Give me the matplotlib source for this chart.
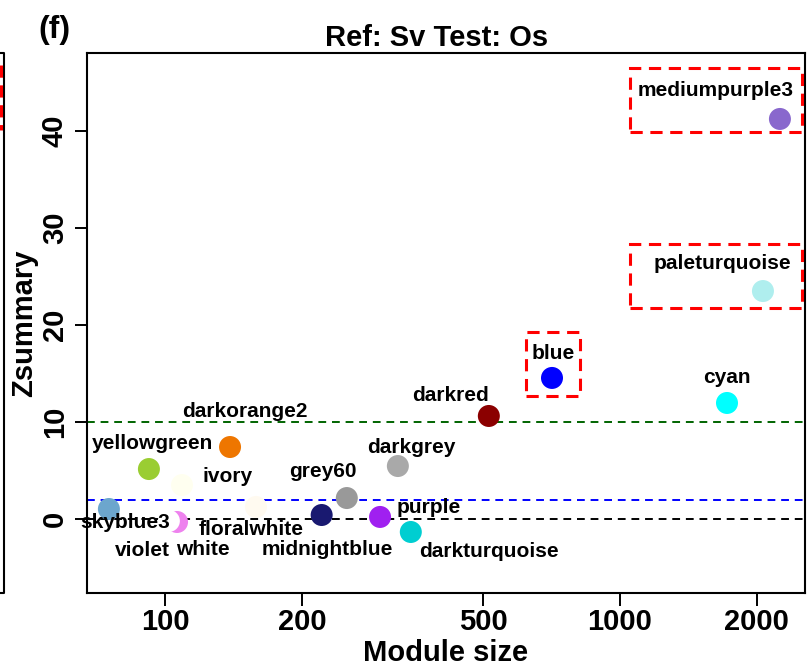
import matplotlib
matplotlib.use("Agg")
import matplotlib.pyplot as plt
from matplotlib.lines import Line2D
from matplotlib.patches import Rectangle

plt.rcParams['font.family'] = ['Liberation Sans', 'DejaVu Sans']
plt.rcParams['font.weight'] = 'bold'

modules = ["skyblue3", "yellowgreen", "ivory", "violet", "white", "darkorange2",
           "floralwhite", "midnightblue", "grey60", "purple", "darkgrey",
           "darkturquoise", "darkred", "blue", "cyan", "paleturquoise", "mediumpurple3"]
colors = ["#6CA6CD", "#9ACD32", "#FFFFF0", "#EE82EE", "#FFFFFF", "#EE7600",
          "#FFFAF0", "#191970", "#999999", "#A020F0", "#A9A9A9",
          "#00CED1", "#8B0000", "#0000FF", "#00FFFF", "#AFEEEE", "#8968CD"]
module_size = [75.3, 92.2, 109, 106.3, 102, 139,
               158.5, 221, 251, 297, 325,
               347, 515, 709, 1719, 2062, 2247]
zsummary = [1.03, 5.15, 3.5, -0.31, -0.2, 7.42,
            1.24, 0.41, 2.16, 0.21, 5.46,
            -1.34, 10.62, 14.54, 11.96, 23.5, 41.24]
# label offsets in pixels (dx, dy with dy positive downward)
label_dx = [16, 4, 46, -35, 34, 15, -5, 6, -24, 49, 13, 78, -38, 1, 0, -41, -64]
label_dy = [14, -26, -9, 29, 29, -36, 23, 34, -27, -9, -19, 20, -20, -24, -25, -28, -28]

thresholds = [0, 2, 10]
threshold_colors = ["black", "blue", "darkgreen"]

# highlighted modules: (x0, x1, y0, y1)
box_x0 = [1052, 1052, 621]
box_x1 = [2512, 2512, 817]
box_y0 = [39.9, 21.75, 12.68]
box_y1 = [46.5, 28.35, 19.28]

xticks = [100, 200, 500, 1000, 2000]
yticks = [0, 10, 20, 30, 40]

W, H = 809, 667
fig = plt.figure(figsize=(W / 100, H / 100), dpi=100)
ax = fig.add_axes([87 / W, (H - 593) / H, (805 - 87) / W, (593 - 53) / H])

ax.set_xscale('log')
ax.set_xlim(67.4, 2551)
ax.set_ylim(-7.63, 48.04)

for t, c in zip(thresholds, threshold_colors):
    ax.axhline(t, color=c, lw=1.4, ls=(0, (4, 3)), zorder=1)

ax.scatter(module_size, zsummary, s=251, c=colors, edgecolors='none', zorder=3)

for name, x, y, dx, dy in zip(modules, module_size, zsummary, label_dx, label_dy):
    ax.annotate(name, (x, y), xytext=(dx, -dy), textcoords='offset pixels',
                ha='center', va='center', fontsize=15, fontweight='bold', zorder=4)

for x0, x1, y0, y1 in zip(box_x0, box_x1, box_y0, box_y1):
    ax.add_patch(Rectangle((x0, y0), x1 - x0, y1 - y0, fill=False,
                           edgecolor='red', lw=2.2, ls=(0, (4, 2.5)), zorder=5))

ax.set_xticks(xticks)
ax.set_xticklabels([str(t) for t in xticks])
ax.xaxis.set_minor_locator(matplotlib.ticker.NullLocator())
ax.set_yticks(yticks)
ax.set_yticklabels([str(t) for t in yticks], rotation=90, va='center')
ax.tick_params(axis='both', length=9, width=1.4, labelsize=21, direction='out')
ax.tick_params(axis='x', pad=2)
ax.tick_params(axis='y', pad=4)
for lab in ax.get_xticklabels() + ax.get_yticklabels():
    lab.set_fontweight('bold')
for sp in ax.spines.values():
    sp.set_linewidth(1.5)

ax.set_xlabel("Module size", fontsize=21, fontweight='bold', labelpad=2)
ax.set_ylabel("Zsummary", fontsize=21, fontweight='bold', labelpad=2)

fig.text(437 / W, 1 - 38 / H, "Ref: Sv Test: Os", ha='center', va='center',
         fontsize=21, fontweight='bold')
fig.text(54 / W, 1 - 30 / H, "(f)", ha='center', va='center',
         fontsize=23, fontweight='bold')

# edge of the neighbouring panel
fig.add_artist(Line2D([0, 3.5 / W, 3.5 / W, 0],
                      [1 - 53 / H, 1 - 53 / H, 1 - 593 / H, 1 - 593 / H],
                      transform=fig.transFigure, color='black', lw=1.5))
fig.add_artist(Line2D([0.8 / W, 0.8 / W], [1 - 65 / H, 1 - 130 / H],
                      transform=fig.transFigure, color='red', lw=2.2,
                      ls=(0, (4, 2.5))))

fig.savefig("out.png", dpi=100)
